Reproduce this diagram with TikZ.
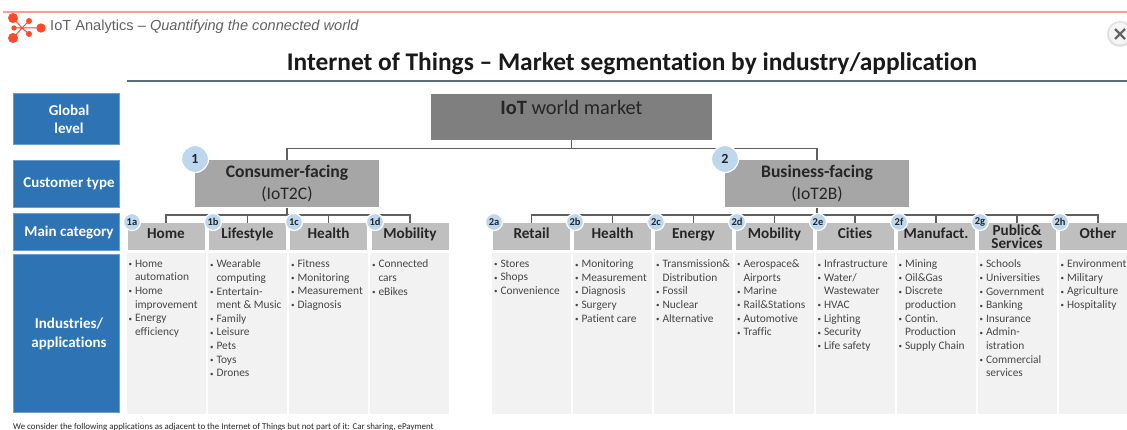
\documentclass[tikz,border=0pt]{standalone}
\usepackage{fontspec}
\setmainfont[Ligatures={TeX,NoCommon}]{Carlito}
\newfontfamily\headfont[Ligatures=TeX]{Liberation Sans}
\definecolor{bluebox}{HTML}{2E74B5}
\definecolor{darkbox}{HTML}{7F7F7F}
\definecolor{midbox}{HTML}{A6A6A6}
\definecolor{catbox}{HTML}{BFBFBF}
\definecolor{bodybox}{HTML}{F2F2F2}
\definecolor{badgefill}{HTML}{BDD7EE}
\definecolor{linegray}{HTML}{5F5F5F}
\definecolor{logored}{HTML}{FF4B2B}
\definecolor{rulered}{HTML}{F9A093}
\definecolor{ruleslate}{HTML}{5B6B80}
\newcommand{\bu}{\makebox[6.3pt][l]{\raisebox{.6pt}{\fontsize{7}{7}\selectfont\textbullet}}}
\newcommand{\ind}{\hspace*{6.3pt}}
\tikzset{
  sidebox/.style={draw=bluebox!70!white,line width=.6pt,fill=bluebox,text=white,inner sep=0pt,minimum width=106pt},
  sidetext/.style={text=white,font=\fontsize{15}{18.5}\selectfont\bfseries,align=center,inner sep=0pt},
  segbox/.style={fill=midbox,text=black!85,font=\fontsize{17.6}{22}\selectfont,align=center,inner sep=0pt,minimum width=184pt,minimum height=47pt},
  catnode/.style={fill=catbox,inner sep=0pt,minimum width=77pt,minimum height=27pt},
  cattext/.style={text=black!85,font=\fontsize{15.2}{13.5}\selectfont\bfseries,align=center,inner sep=0pt},
  bodycol/.style={fill=bodybox,inner sep=0pt,minimum width=79pt,minimum height=161pt},
  listtext/.style={anchor=north west,inner sep=0pt,align=left,text=black!72,font=\fontsize{11.4}{13.65}\selectfont},
  badge/.style={circle,fill=badgefill,draw=white,line width=1.2pt,inner sep=0pt,minimum size=17pt,text=black!85,font=\fontsize{10.5}{10.5}\selectfont\bfseries},
  bigbadge/.style={badge,minimum size=27pt,font=\fontsize{14}{14}\selectfont\bfseries},
  tree/.style={draw=linegray,line width=1.6pt},
}
\newcommand{\cat}[5]{% name, centre x, label, label y, label style
  \node[catnode] (#1) at (#2,236.5) {};
  \node[cattext,#5] (#1label) at (#2,#4) {#3};
  \coordinate (#1top) at (#2,215);
}
\newcommand{\colbody}[3]{% name, centre x, list
  \node[bodycol] (#1body) at (#2,333.5) {};
  \node[listtext] (#1list) at ({#2-37.5},259.6) {#3};
}
\begin{document}
\begin{tikzpicture}[x=1pt,y=-1pt]
\useasboundingbox (0,0) rectangle (1127,430);
\fill[white] (0,0) rectangle (1127,430);
% header
\draw[rulered,line width=1.1pt] (3,12) -- (1127,12);
\draw[logored,line width=1pt] (13,18) -- (22,28) -- (13,38) (14,28) -- (41,28) (22,28) -- (29,21) (22,28) -- (29,34);
\fill[logored] (13,18) circle (5) (13,38) circle (5) (41,28) circle (4.7) (29,21) circle (3) (29,34) circle (3) (14,28) circle (2.7);
\node[anchor=west,inner sep=0pt,text=black!62,font=\headfont\fontsize{14.6}{16}\selectfont] (brand) at (50,27) {IoT Analytics – \textit{Quantifying the connected world}};
% close icon
\fill[black!12] (1120,34) circle (13);
\fill[black!4] (1120,33.5) circle (11);
\draw[black!60,line width=2.3pt] (1115,29) -- (1125,39) (1125,29) -- (1115,39);
% title
\node[inner sep=0pt,font=\fontsize{25.4}{30}\selectfont\bfseries,text=black!90] (title) at (632,64) {Internet of Things – Market segmentation by industry/application};
\draw[ruleslate,line width=1.9pt] (127,81) -- (1127,81);
% side labels
\node[sidebox,minimum height=51pt] (global) at (66,118.5) {};
\node[sidetext] (globaltext) at (69,119.5) {Global\\level};
\node[sidebox,minimum height=47pt] (custtype) at (66,183.5) {};
\node[sidetext] (custtext) at (69,184) {Customer type};
\node[sidebox,minimum height=37pt] (maincat) at (66,231.5) {};
\node[sidetext] (maintext) at (69,232.5) {Main category};
\node[sidebox,minimum height=158pt] (industries) at (66,333) {};
\node[sidetext] (indtext) at (69,334) {Industries/\\applications};
% top
\node[fill=darkbox,inner sep=0pt,minimum width=281pt,minimum height=46pt] (world) at (571.5,117) {};
\node[inner sep=0pt,font=\fontsize{20.4}{24}\selectfont,text=black!85] (worldlabel) at (571.5,107) {\textbf{IoT} world market};
\node[segbox] (consumer) at (287,184) {\textbf{Consumer-facing}\\(IoT2C)};
\node[segbox] (business) at (817,184) {\textbf{Business-facing}\\(IoT2B)};
% categories
\cat{home}{166}{Home}{239}{anchor=base}
\cat{life}{247.5}{Lifestyle}{239}{anchor=base}
\cat{healthA}{328.5}{Health}{239}{anchor=base}
\cat{mobA}{410}{Mobility}{239}{anchor=base}
\cat{retail}{531.5}{Retail}{239}{anchor=base}
\cat{healthB}{612.5}{Health}{239}{anchor=base}
\cat{energy}{693.5}{Energy}{239}{anchor=base}
\cat{mobB}{774.5}{Mobility}{239}{anchor=base}
\cat{cities}{855}{Cities}{239}{anchor=base}
\cat{manu}{936}{Manufact.}{239}{anchor=base}
\cat{public}{1017}{Public\&\\Services}{236.5}{}
\cat{other}{1098}{Other}{239}{anchor=base}
% connectors
\coordinate (j0) at (571.5,148.5);
\coordinate (j1) at (287,215);
\coordinate (j2) at (817,215);
\draw[tree] (world.south) -- (j0);
\draw[tree] (consumer.north) |- (j0) -| (business.north);
\draw[tree] (consumer.south) -- (j1);
\draw[tree] (business.south) -- (j2);
\draw[tree] (home.north) |- (j1) -| (mobA.north);
\draw[tree] (life.north) -- (lifetop);
\draw[tree] (healthA.north) -- (healthAtop);
\draw[tree] (retail.north) |- (j2) -| (other.north);
\foreach \n in {healthB,energy,mobB,cities,manu,public}{\draw[tree] (\n.north) -- (\n top);}
% bodies
\colbody{home}{166}{\bu Home\\\ind automation\\\bu Home\\\ind improvement\\\bu Energy\\\ind efficiency}
\colbody{life}{247.5}{\bu Wearable\\\ind computing\\\bu Entertain-\\\ind ment \& Music\\\bu Family\\\bu Leisure\\\bu Pets\\\bu Toys\\\bu Drones}
\colbody{healthA}{328.5}{\bu Fitness\\\bu Monitoring\\\bu Measurement\\\bu Diagnosis}
\colbody{mobA}{409.5}{\bu Connected\\\ind cars\\\bu eBikes}
\colbody{retail}{531.5}{\bu Stores\\\bu Shops\\\bu Convenience}
\colbody{healthB}{612.5}{\bu Monitoring\\\bu Measurement\\\bu Diagnosis\\\bu Surgery\\\bu Patient care}
\colbody{energy}{693.5}{\bu Transmission\&\\\ind Distribution\\\bu Fossil\\\bu Nuclear\\\bu Alternative}
\colbody{mobB}{774.5}{\bu Aerospace\&\\\ind Airports\\\bu Marine\\\bu Rail\&Stations\\\bu Automotive\\\bu Traffic}
\colbody{cities}{855}{\bu Infrastructure\\\bu Water/\\\ind Wastewater\\\bu HVAC\\\bu Lighting\\\bu Security\\\bu Life safety}
\colbody{manu}{936}{\bu Mining\\\bu Oil\&Gas\\\bu Discrete\\\ind production\\\bu Contin.\\\ind Production\\\bu Supply Chain}
\colbody{public}{1017}{\bu Schools\\\bu Universities\\\bu Government\\\bu Banking\\\bu Insurance\\\bu Admin-\\\ind istration\\\bu Commercial\\\ind services}
\colbody{other}{1098}{\bu Environment\\\bu Military\\\bu Agriculture\\\bu Hospitality}
% badges
\node[bigbadge] (b1) at (195,159) {1};
\node[bigbadge] (b2) at (725,159) {2};
\foreach \nm/\x in {1a/132,1b/213,1c/294,1d/375,2a/494,2b/575,2c/656,2d/737,2e/818,2f/899,2g/980,2h/1060}{
  \node[badge] (b\nm) at (\x,222) {\nm};
}
% footnote
\node[anchor=west,inner sep=0pt,text=black!85,font=\fontsize{8.9}{10}\selectfont] (foot) at (13,427) {We consider the following applications as adjacent to the Internet of Things but not part of it: Car sharing, ePayment};
\end{tikzpicture}
\end{document}
